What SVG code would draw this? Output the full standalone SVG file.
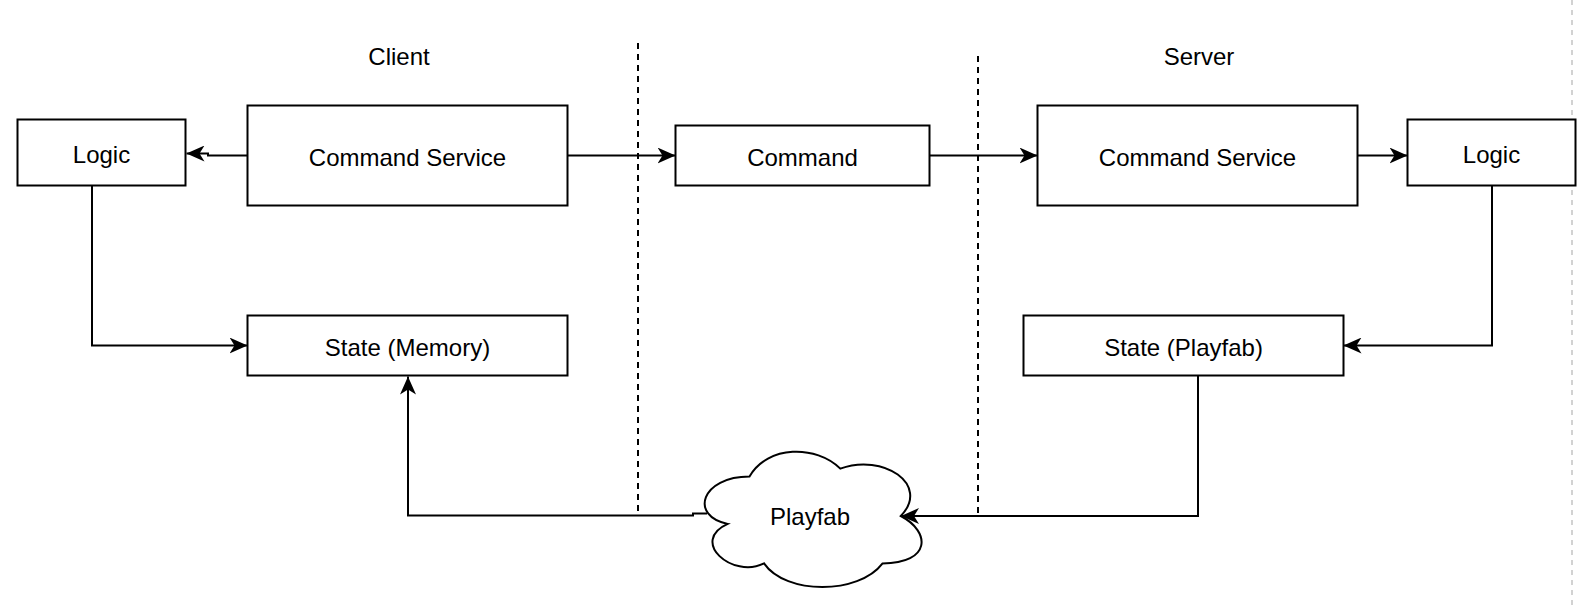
<svg xmlns="http://www.w3.org/2000/svg" width="1596" height="609" viewBox="0 0 1596 609">
  <style>
    .box { fill: #ffffff; stroke: #000000; stroke-width: 2; }
    .lbl { font-family: "Liberation Sans", Arial, Helvetica, sans-serif; font-size: 24px; fill: #000000; text-anchor: middle; }
    .edge { fill: none; stroke: #000000; stroke-width: 2; marker-end: url(#arrow); }
    .sep { stroke: #000000; stroke-width: 2; stroke-dasharray: 6 5; }
    .page { stroke: #c4c4c4; stroke-width: 1.5; stroke-dasharray: 5 5; }
  </style>
  <defs>
    <marker id="arrow" viewBox="0 0 18 16" refX="18" refY="8" markerWidth="18" markerHeight="16" orient="auto" markerUnits="userSpaceOnUse">
      <path d="M18,8 L0,0 L5,8 L0,16 Z" fill="#000000"/>
    </marker>
  </defs>
  <rect width="1596" height="609" fill="#ffffff"/>

  <g id="page-break">
    <line class="page" x1="1572" y1="0" x2="1572" y2="609"/>
  </g>

  <g id="separators">
    <line class="sep" x1="638" y1="43" x2="638" y2="516"/>
    <line class="sep" x1="978" y1="56" x2="978" y2="516"/>
  </g>

  <g id="label-client">
    <text class="lbl" x="399" y="65">Client</text>
  </g>
  <g id="label-server">
    <text class="lbl" x="1199" y="65">Server</text>
  </g>

  <g id="connectors">
    <path class="edge" d="M247.5,155.5 H208 V153.5 H186.5"/>
    <path class="edge" d="M567.5,155.5 H675.5"/>
    <path class="edge" d="M929.5,155.5 H1037.5"/>
    <path class="edge" d="M1357.5,155.5 H1407.5"/>
    <path class="edge" d="M92,186 V345.5 H247.5"/>
    <path class="edge" d="M1492,186 V345.5 H1343.5"/>
    <path class="edge" d="M1198,375.5 V516 H901"/>
    <path class="edge" d="M707,513.5 H693 V515.5 H408 V376.5"/>
  </g>

  <g id="logic-client">
    <rect class="box" x="17.5" y="119.5" width="168" height="66"/>
    <text class="lbl" x="101.5" y="163">Logic</text>
  </g>
  <g id="command-service-client">
    <rect class="box" x="247.5" y="105.5" width="320" height="100"/>
    <text class="lbl" x="407.5" y="165.5">Command Service</text>
  </g>
  <g id="command">
    <rect class="box" x="675.5" y="125.5" width="254" height="60"/>
    <text class="lbl" x="802.5" y="165.5">Command</text>
  </g>
  <g id="command-service-server">
    <rect class="box" x="1037.5" y="105.5" width="320" height="100"/>
    <text class="lbl" x="1197.5" y="165.5">Command Service</text>
  </g>
  <g id="logic-server">
    <rect class="box" x="1407.5" y="119.5" width="168" height="66"/>
    <text class="lbl" x="1491.5" y="163">Logic</text>
  </g>
  <g id="state-memory">
    <rect class="box" x="247.5" y="315.5" width="320" height="60"/>
    <text class="lbl" x="407.5" y="355.5">State (Memory)</text>
  </g>
  <g id="state-playfab">
    <rect class="box" x="1023.5" y="315.5" width="320" height="60"/>
    <text class="lbl" x="1183.5" y="355.5">State (Playfab)</text>
  </g>
  <g id="playfab-cloud">
    <path class="box" d="M749.5,476.5 C701.1,476.5 689,516 727.7,523.9 C689,541.3 732.6,579.2 764,563.4 C785.8,595 858.4,595 882.6,563.4 C931,563.4 931,531.8 900.8,516 C931,484.4 882.6,452.8 840.3,468.6 C816.1,444.9 767.7,444.9 749.5,476.5 Z"/>
    <text class="lbl" x="810" y="524.5">Playfab</text>
  </g>
</svg>
